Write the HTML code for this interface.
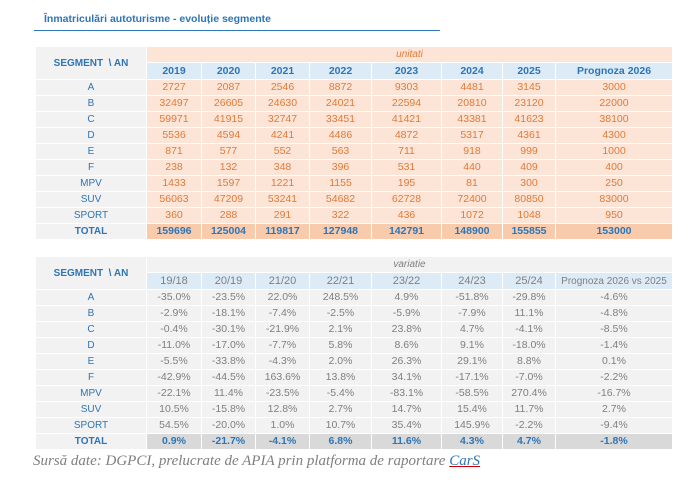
<!DOCTYPE html>
<html><head><meta charset="utf-8"><style>
body{margin:0;width:700px;height:483px;background:#fff;position:relative;overflow:hidden;font-family:"Liberation Sans","DejaVu Sans",sans-serif}
.title{position:absolute;left:44px;top:13px;font-size:10.5px;font-weight:bold;color:#2e75b6}
.line{position:absolute;left:34px;top:30px;width:406px;height:1px;background:#2e75b6}
table{position:absolute;left:35px;border-collapse:collapse;table-layout:fixed;font-size:10.5px}
td{border:1px solid #fff;text-align:center;padding:0;height:15px;line-height:15px;white-space:nowrap;overflow:hidden}
td.l{background:#f2f2f2;color:#2e75b6;font-size:10px}
#t1{top:46px}
#t1 td{background:#fce4d6;color:#e07b39}
#t1 td.l{background:#f2f2f2;color:#2e75b6}
#t1 tr.y td{background:#ddebf7;color:#2e75b6;font-weight:bold;height:16px}
#t1 tr.tot td{background:#f8cbad;color:#2e75b6;font-weight:bold}
#t1 tr.tot td.l{background:#f2f2f2}
.u{font-style:italic;font-size:10px}
#t2{top:256px}
#t2 td{background:#f2f2f2;color:#7f7f7f}
#t2 td.l{color:#2e75b6}
#t2 tr.y td{background:#ddebf7;color:#7f7f7f;height:16px;font-size:11px}
#t2 tr.y td.p{font-size:10px}
#t2 tr.tot td{background:#d9d9d9;color:#2e75b6;font-weight:bold}
#t2 tr.tot td.l{background:#f2f2f2}
.src{position:absolute;left:33px;top:453px;font-family:"Liberation Serif",serif;font-style:italic;font-size:15px;color:#7f7f7f}
.src u{color:#2e75b6;text-decoration-color:#c00}
</style></head><body>
<div class="title">Înmatriculări autoturisme - evoluție segmente</div>
<div class="line"></div>
<table id="t1">
<colgroup><col style="width:111px"><col style="width:55px"><col style="width:54px"><col style="width:54px"><col style="width:62px"><col style="width:70px"><col style="width:61px"><col style="width:53px"><col style="width:117px"></colgroup>
<tr><td class="l" rowspan="2" style="font-weight:bold;vertical-align:middle">SEGMENT &nbsp;\ AN</td><td colspan="8" class="u">unitati</td></tr>
<tr class="y"><td>2019</td><td>2020</td><td>2021</td><td>2022</td><td>2023</td><td>2024</td><td>2025</td><td>Prognoza 2026</td></tr>
<tr><td class="l">A</td><td>2727</td><td>2087</td><td>2546</td><td>8872</td><td>9303</td><td>4481</td><td>3145</td><td>3000</td></tr>
<tr><td class="l">B</td><td>32497</td><td>26605</td><td>24630</td><td>24021</td><td>22594</td><td>20810</td><td>23120</td><td>22000</td></tr>
<tr><td class="l">C</td><td>59971</td><td>41915</td><td>32747</td><td>33451</td><td>41421</td><td>43381</td><td>41623</td><td>38100</td></tr>
<tr><td class="l">D</td><td>5536</td><td>4594</td><td>4241</td><td>4486</td><td>4872</td><td>5317</td><td>4361</td><td>4300</td></tr>
<tr><td class="l">E</td><td>871</td><td>577</td><td>552</td><td>563</td><td>711</td><td>918</td><td>999</td><td>1000</td></tr>
<tr><td class="l">F</td><td>238</td><td>132</td><td>348</td><td>396</td><td>531</td><td>440</td><td>409</td><td>400</td></tr>
<tr><td class="l">MPV</td><td>1433</td><td>1597</td><td>1221</td><td>1155</td><td>195</td><td>81</td><td>300</td><td>250</td></tr>
<tr><td class="l">SUV</td><td>56063</td><td>47209</td><td>53241</td><td>54682</td><td>62728</td><td>72400</td><td>80850</td><td>83000</td></tr>
<tr><td class="l">SPORT</td><td>360</td><td>288</td><td>291</td><td>322</td><td>436</td><td>1072</td><td>1048</td><td>950</td></tr>
<tr class="tot"><td class="l">TOTAL</td><td>159696</td><td>125004</td><td>119817</td><td>127948</td><td>142791</td><td>148900</td><td>155855</td><td>153000</td></tr>
</table>
<table id="t2">
<colgroup><col style="width:111px"><col style="width:55px"><col style="width:54px"><col style="width:54px"><col style="width:62px"><col style="width:70px"><col style="width:61px"><col style="width:53px"><col style="width:117px"></colgroup>
<tr><td class="l" rowspan="2" style="font-weight:bold;vertical-align:middle">SEGMENT &nbsp;\ AN</td><td colspan="8" class="u">variatie</td></tr>
<tr class="y"><td>19/18</td><td>20/19</td><td>21/20</td><td>22/21</td><td>23/22</td><td>24/23</td><td>25/24</td><td class="p">Prognoza 2026 vs 2025</td></tr>
<tr><td class="l">A</td><td>-35.0%</td><td>-23.5%</td><td>22.0%</td><td>248.5%</td><td>4.9%</td><td>-51.8%</td><td>-29.8%</td><td>-4.6%</td></tr>
<tr><td class="l">B</td><td>-2.9%</td><td>-18.1%</td><td>-7.4%</td><td>-2.5%</td><td>-5.9%</td><td>-7.9%</td><td>11.1%</td><td>-4.8%</td></tr>
<tr><td class="l">C</td><td>-0.4%</td><td>-30.1%</td><td>-21.9%</td><td>2.1%</td><td>23.8%</td><td>4.7%</td><td>-4.1%</td><td>-8.5%</td></tr>
<tr><td class="l">D</td><td>-11.0%</td><td>-17.0%</td><td>-7.7%</td><td>5.8%</td><td>8.6%</td><td>9.1%</td><td>-18.0%</td><td>-1.4%</td></tr>
<tr><td class="l">E</td><td>-5.5%</td><td>-33.8%</td><td>-4.3%</td><td>2.0%</td><td>26.3%</td><td>29.1%</td><td>8.8%</td><td>0.1%</td></tr>
<tr><td class="l">F</td><td>-42.9%</td><td>-44.5%</td><td>163.6%</td><td>13.8%</td><td>34.1%</td><td>-17.1%</td><td>-7.0%</td><td>-2.2%</td></tr>
<tr><td class="l">MPV</td><td>-22.1%</td><td>11.4%</td><td>-23.5%</td><td>-5.4%</td><td>-83.1%</td><td>-58.5%</td><td>270.4%</td><td>-16.7%</td></tr>
<tr><td class="l">SUV</td><td>10.5%</td><td>-15.8%</td><td>12.8%</td><td>2.7%</td><td>14.7%</td><td>15.4%</td><td>11.7%</td><td>2.7%</td></tr>
<tr><td class="l">SPORT</td><td>54.5%</td><td>-20.0%</td><td>1.0%</td><td>10.7%</td><td>35.4%</td><td>145.9%</td><td>-2.2%</td><td>-9.4%</td></tr>
<tr class="tot"><td class="l">TOTAL</td><td>0.9%</td><td>-21.7%</td><td>-4.1%</td><td>6.8%</td><td>11.6%</td><td>4.3%</td><td>4.7%</td><td>-1.8%</td></tr>
</table>
<div class="src">Sursă date: DGPCI, prelucrate de APIA prin platforma de raportare <u>CarS</u></div>
</body></html>
